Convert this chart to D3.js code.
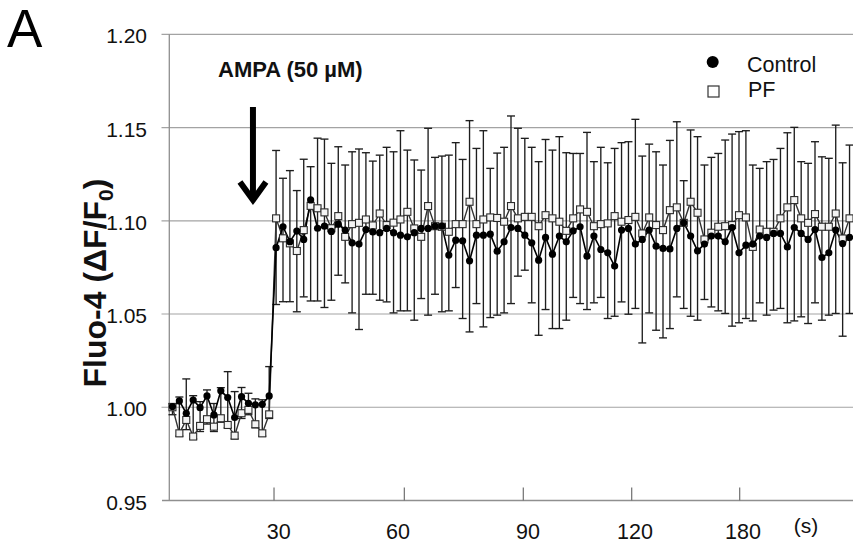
<!DOCTYPE html>
<html><head><meta charset="utf-8">
<script src="https://cdn.jsdelivr.net/npm/d3@7"></script>
<style>body{margin:0;background:#fff}svg{display:block}</style>
</head><body><svg id="c" width="853" height="546"></svg>
<script>
// Control (mean), PF (mean), upper end of bars, lower end of bars (ΔF/F0)
const control = [1.0004,1.0034,0.9968,1.0039,0.9998,1.0061,0.9959,1.0088,1.0052,0.9945,1.0057,1.0021,1.0013,1.0016,1.0061,
1.0856,1.0968,1.0888,1.0945,1.0900,1.1112,1.0960,1.0971,1.0943,1.0982,1.0950,1.0882,1.0875,1.0953,1.0940,
1.0936,1.0959,1.0936,1.0923,1.0914,1.0936,1.0959,1.0959,1.0971,1.0971,1.0816,1.0896,1.0893,1.0785,1.0923,
1.0923,1.0928,1.0837,1.0887,1.0964,1.0959,1.0923,1.0882,1.0789,1.0911,1.0821,1.0918,1.0887,1.0946,1.0968,
1.0810,1.0918,1.0846,1.0828,1.0757,1.0950,1.0959,1.0875,1.0900,1.0950,1.0864,1.0852,1.0849,1.0959,1.0989,
1.0918,1.0839,1.0875,1.0918,1.0918,1.0887,1.0964,1.0828,1.0869,1.0875,1.0918,1.0911,1.0932,1.0932,1.0860,
1.0964,1.0932,1.0900,1.0953,1.0803,1.0828,1.0950,1.0878,1.0911];
const pf = [1.0000,0.9860,0.9932,0.9843,0.9900,0.9936,0.9896,0.9941,0.9905,0.9848,0.9968,0.9986,0.9909,0.9860,0.9962,
1.1013,1.0906,1.0879,1.0838,1.0950,1.1080,1.1067,1.1045,1.0960,1.1025,1.0914,1.0982,1.0989,1.1007,1.0975,
1.1039,1.0977,1.0990,1.1007,1.1048,1.0959,1.0914,1.1079,1.0971,1.0968,1.0941,1.0982,1.0982,1.1102,1.0982,
1.1007,1.1018,1.1015,1.0995,1.1079,1.1013,1.1021,1.1021,1.0971,1.1030,1.1013,1.0995,1.0946,1.1013,1.1061,
1.1048,1.0971,1.0982,1.0986,1.1025,1.0995,1.1004,1.1021,1.0932,1.1018,1.0977,1.0950,1.1057,1.1072,1.0989,
1.1102,1.1043,1.0900,1.0936,1.0968,1.0971,1.0977,1.1030,1.1018,1.0860,1.0953,1.0941,1.0941,1.1013,1.1072,
1.1111,1.1013,1.0989,1.1036,1.0968,1.0968,1.1039,1.0905,1.1013];
const barUpper = [1.0020,1.0055,1.0152,1.0062,1.0030,1.0093,1.0020,1.0105,1.0191,1.0084,1.0106,1.0075,1.0045,1.0040,1.0218,
1.1377,1.1228,1.1269,1.1162,1.1330,1.1290,1.1443,1.1438,1.1308,1.1397,1.1299,1.1370,1.1385,1.1365,1.1320,
1.1352,1.1394,1.1370,1.1483,1.1379,1.1326,1.1272,1.1496,1.1340,1.1347,1.1352,1.1419,1.1329,1.1537,1.1388,
1.1483,1.1281,1.1363,1.1394,1.1562,1.1496,1.1442,1.1394,1.1317,1.1436,1.1379,1.1451,1.1365,1.1361,1.1361,
1.1474,1.1317,1.1394,1.1311,1.1388,1.1419,1.1424,1.1544,1.1347,1.1411,1.1370,1.1299,1.1431,1.1531,1.1215,
1.1487,1.1451,1.1299,1.1340,1.1361,1.1433,1.1465,1.1478,1.1483,1.1299,1.1281,1.1317,1.1329,1.1388,1.1472,
1.1501,1.1317,1.1308,1.1424,1.1343,1.1335,1.1513,1.1311,1.1406];
const barLower = [0.9960,0.9845,0.9880,0.9830,0.9870,0.9910,0.9870,0.9920,0.9890,0.9830,0.9940,0.9960,0.9890,0.9845,0.9940,
1.0551,1.0566,1.0566,1.0512,1.0592,1.0570,1.0570,1.0535,1.0574,1.0708,1.0667,1.0506,1.0417,1.0606,1.0606,
1.0574,1.0565,1.0506,1.0517,1.0517,1.0467,1.0583,1.0494,1.0606,1.0512,1.0517,1.0642,1.0476,1.0404,1.0556,
1.0431,1.0481,1.0494,1.0506,1.0556,1.0703,1.0735,1.0560,1.0386,1.0524,1.0422,1.0422,1.0467,1.0589,1.0556,
1.0524,1.0560,1.0589,1.0476,1.0488,1.0565,1.0499,1.0530,1.0345,1.0506,1.0413,1.0372,1.0422,1.0592,1.0530,
1.0488,1.0467,1.0578,1.0538,1.0517,1.0503,1.0435,1.0453,1.0476,1.0463,1.0560,1.0494,1.0521,1.0530,1.0453,
1.0463,1.0485,1.0449,1.0560,1.0467,1.0494,1.0503,1.0381,1.0503];

const yTicks = [0.95, 1.00, 1.05, 1.10, 1.15, 1.20];
const xLabels = ["30", "60", "90", "120", "180"];
const xTickPos = [14.7, 33.56, 50.78, 66.47, 82.1];     // in sample-index units
const xLabelPos = [15.38, 32.65, 51.46, 66.95, 82.58];
const unitLabel = "(s)";
const seriesNames = ["Control", "PF"];
const stimulus = "AMPA (50 µM)";
const stimIndex = 11.65;

const FONT = "'Liberation Sans', Arial, sans-serif";
const svg = d3.select("#c");
const n = control.length;
const x = d3.scaleLinear().domain([-0.5, n - 0.5]).range([169, 853]);
const y = d3.scaleLinear().domain([0.95, 1.20]).range([500.5, 34.3]);
const X0 = 169, X1 = 853;

// gridlines (extend left as tick marks)
svg.append("g").selectAll("line").data(yTicks.slice(1)).join("line")
  .attr("x1", X0 - 7.5).attr("x2", X1)
  .attr("y1", d => y(d)).attr("y2", d => y(d))
  .attr("stroke", "#a3a3a3").attr("stroke-width", 1.2);

// y axis line
svg.append("line").attr("x1", X0 + 0.3).attr("x2", X0 + 0.3).attr("y1", y(1.20)).attr("y2", y(0.95))
  .attr("stroke", "#8f8f8f").attr("stroke-width", 1.3);
// x axis line
svg.append("line").attr("x1", X0 - 7).attr("x2", X1).attr("y1", y(0.95)).attr("y2", y(0.95))
  .attr("stroke", "#8f8f8f").attr("stroke-width", 1.3);
// x ticks (inward)
svg.append("g").selectAll("line").data(xTickPos).join("line")
  .attr("x1", d => x(d)).attr("x2", d => x(d))
  .attr("y1", y(0.95)).attr("y2", y(0.95) - 13)
  .attr("stroke", "#6f6f6f").attr("stroke-width", 1.2);

// y tick labels
svg.append("g").selectAll("text").data(yTicks).join("text")
  .attr("x", 147).attr("y", d => y(d) + 9)
  .attr("text-anchor", "end").attr("font-family", FONT).attr("font-size", 21)
  .attr("fill", "#111").text(d => d.toFixed(2));

// x tick labels
svg.append("g").selectAll("text").data(xLabels).join("text")
  .attr("x", (d, i) => x(xLabelPos[i])).attr("y", 539)
  .attr("text-anchor", "middle").attr("font-family", FONT).attr("font-size", 21.5)
  .attr("fill", "#111").text(d => d);
svg.append("text").attr("x", 806).attr("y", 533).attr("text-anchor", "middle")
  .attr("font-family", FONT).attr("font-size", 21).attr("fill", "#111").text(unitLabel);

// y title
const yt = svg.append("text").attr("transform", "translate(106,283) rotate(-90)")
  .attr("text-anchor", "middle").attr("font-family", FONT).attr("font-weight", "bold")
  .attr("font-size", 32).attr("fill", "#111");
yt.append("tspan").text("Fluo-4 (ΔF/F");
yt.append("tspan").attr("font-size", 21).attr("dy", 7).text("0");
yt.append("tspan").attr("dy", -7).text(")");

// panel letter
svg.append("text").attr("x", 7).attr("y", 47).attr("font-family", FONT).attr("font-size", 53)
  .attr("fill", "#000").text("A");

// error bars
const eb = svg.append("g").attr("stroke", "#1e1e1e").attr("stroke-width", 1.35);
const idx = d3.range(n);
eb.selectAll("line.v").data(idx).join("line").attr("class", "v")
  .attr("x1", i => x(i)).attr("x2", i => x(i))
  .attr("y1", i => y(barUpper[i])).attr("y2", i => y(barLower[i]));
eb.selectAll("line.t").data(idx).join("line").attr("class", "t")
  .attr("x1", i => x(i) - 4).attr("x2", i => x(i) + 4)
  .attr("y1", i => y(barUpper[i])).attr("y2", i => y(barUpper[i]));
eb.selectAll("line.b").data(idx).join("line").attr("class", "b")
  .attr("x1", i => x(i) - 4).attr("x2", i => x(i) + 4)
  .attr("y1", i => y(barLower[i])).attr("y2", i => y(barLower[i]));

// lines
const line = d3.line().x((d, i) => x(i)).y(d => y(d));
svg.append("path").datum(pf).attr("d", line).attr("fill", "none")
  .attr("stroke", "#333").attr("stroke-width", 1.4);
svg.append("path").datum(control).attr("d", line).attr("fill", "none")
  .attr("stroke", "#000").attr("stroke-width", 1.6);

// markers
svg.append("g").selectAll("rect").data(pf).join("rect")
  .attr("x", (d, i) => x(i) - 3.5).attr("y", d => y(d) - 3.5)
  .attr("width", 7).attr("height", 7)
  .attr("fill", "#f4f4f4").attr("stroke", "#2a2a2a").attr("stroke-width", 1.1);
svg.append("g").selectAll("circle").data(control).join("circle")
  .attr("cx", (d, i) => x(i)).attr("cy", d => y(d)).attr("r", 3.6).attr("fill", "#000");

// stimulus annotation
svg.append("text").attr("x", 218).attr("y", 77).attr("font-family", FONT)
  .attr("font-weight", "bold").attr("font-size", 22).attr("fill", "#111").text(stimulus);
const ax = x(stimIndex);
svg.append("line").attr("x1", ax).attr("x2", ax).attr("y1", 107).attr("y2", 198)
  .attr("stroke", "#000").attr("stroke-width", 6);
svg.append("path").attr("d", `M${ax - 13},${182} L${ax},${200} L${ax + 13},${182}`)
  .attr("fill", "none").attr("stroke", "#000").attr("stroke-width", 6)
  .attr("stroke-linejoin", "miter").attr("stroke-linecap", "butt");

// legend
svg.append("circle").attr("cx", 712.7).attr("cy", 62).attr("r", 6).attr("fill", "#000");
svg.append("rect").attr("x", 708).attr("y", 86).attr("width", 11).attr("height", 11)
  .attr("fill", "#fff").attr("stroke", "#333").attr("stroke-width", 1.2);
svg.append("text").attr("x", 747).attr("y", 71.5).attr("font-family", FONT).attr("font-size", 21.5)
  .attr("fill", "#111").text(seriesNames[0]);
svg.append("text").attr("x", 748).attr("y", 97).attr("font-family", FONT).attr("font-size", 21.5)
  .attr("fill", "#111").text(seriesNames[1]);
</script>
</body></html>
